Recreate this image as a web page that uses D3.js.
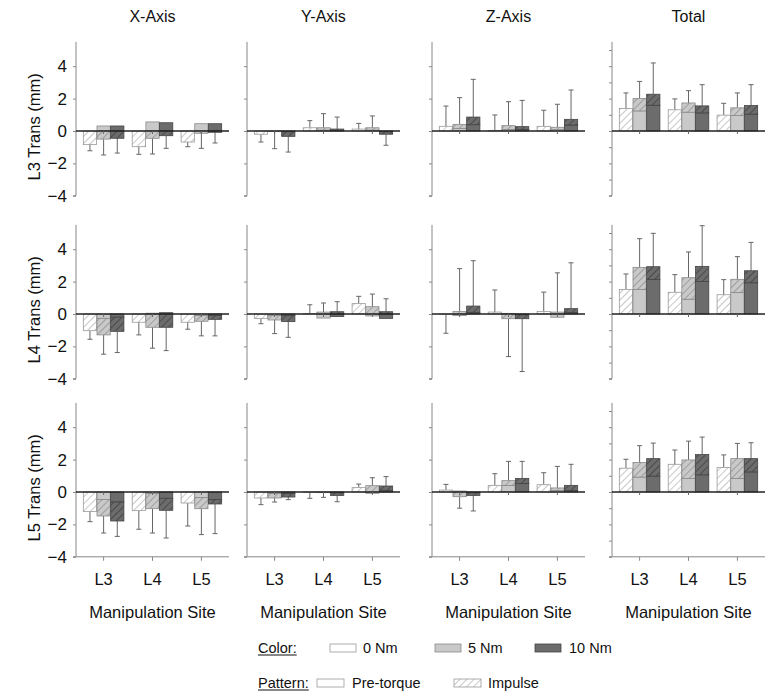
<!DOCTYPE html>
<html><head><meta charset="utf-8">
<script src="https://cdn.jsdelivr.net/npm/d3@7"></script>
<style>body{margin:0;background:#fff}svg{font-family:"Liberation Sans",Arial,sans-serif}</style>
</head><body><svg id="c" width="777" height="696"></svg>
<script>
const sites = ["L3","L4","L5"];
const torques = ["0 Nm","5 Nm","10 Nm"];
const axisTitles = ["X-Axis","Y-Axis","Z-Axis","Total"];
const rowLabels = ["L3 Trans (mm)","L4 Trans (mm)","L5 Trans (mm)"];
const yTickLabels = [4,2,0,-2,-4];
// each row: [X,Y,Z,Total], each with 9 values ordered site (L3,L4,L5) x torque (0,5,10)
const L3_pre = [
 [0,0.31,0.31, 0,0.56,0.51, 0,0.45,0.45],
 [0,0,-0.05, 0,0.05,0.03, 0,0.05,-0.05],
 [0,0.15,0.39, 0,0.1,0.1, 0,0.08,0.37],
 [0,1.24,1.59, 0,1.16,1.12, 0,0.96,1.04]];
const L3_total = [
 [-0.84,-0.5,-0.45, -0.97,-0.45,-0.29, -0.68,-0.14,-0.08],
 [-0.2,-0.03,-0.33, 0.2,0.2,0.12, 0.12,0.2,-0.2],
 [0.29,0.41,0.86, 0.04,0.33,0.27, 0.29,0.23,0.72],
 [1.39,2.0,2.27, 1.31,1.73,1.55, 0.98,1.43,1.57]];
const L3_err = [
 [-0.38,-0.98,-0.91, -0.47,-0.97,-0.78, -0.29,-0.93,-0.66],
 [-0.48,-1.06,-0.97, 0.44,0.87,0.74, 0.35,0.73,-0.68],
 [1.25,1.65,2.33, 0.95,1.48,1.62, 0.99,1.42,1.81],
 [0.96,1.06,1.93, 0.67,0.76,1.31, 0.73,0.92,1.29]];
const L4_pre = [
 [0,-0.27,-0.2, 0,0.05,0.08, 0,-0.1,-0.1],
 [0,-0.1,-0.1, 0,-0.25,-0.16, 0,-0.12,-0.27],
 [0,-0.1,0.1, 0,0.04,-0.05, 0,-0.2,0.1],
 [0,1.52,2.14, 0,0.91,2.0, 0,1.32,1.93]];
const L4_total = [
 [-1.03,-1.29,-1.07, -0.51,-0.82,-0.82, -0.51,-0.45,-0.33],
 [-0.27,-0.37,-0.47, 0.02,0.12,0.14, 0.64,0.45,0.14],
 [-0.01,0.16,0.49, 0.12,-0.29,-0.29, 0.16,0.12,0.33],
 [1.52,2.88,2.92, 1.34,2.24,2.94, 1.19,2.14,2.67]];
const L4_err = [
 [-0.53,-1.19,-1.31, -0.78,-1.29,-1.44, -0.43,-0.9,-1.02],
 [-0.33,-0.84,-0.97, 0.55,0.56,0.62, 0.45,0.78,0.8],
 [-1.18,2.64,2.8, 1.36,-2.34,-3.26, 1.19,2.42,2.83],
 [0.95,1.77,2.06, 1.09,1.59,2.51, 0.93,1.4,1.75]];
const L5_pre = [
 [0,-0.47,-0.62, 0,-0.1,-0.39, 0,-0.35,-0.47],
 [0,-0.1,-0.1, 0,-0.02,-0.05, 0,-0.08,0.1],
 [0,0.06,-0.05, 0,0.41,0.53, 0,0.1,0.1],
 [0,0.92,0.98, 0,0.84,1.06, 0,0.84,1.24]];
const L5_total = [
 [-1.21,-1.48,-1.79, -1.15,-1.03,-1.13, -0.68,-1.03,-0.74],
 [-0.37,-0.37,-0.31, -0.02,-0.04,-0.21, 0.27,0.39,0.37],
 [0.12,-0.29,-0.21, 0.41,0.7,0.84, 0.45,0.25,0.41],
 [1.47,1.82,2.06, 1.71,1.98,2.31, 1.51,2.06,2.06]];
const L5_err = [
 [-0.62,-1.05,-0.95, -1.15,-1.5,-1.71, -1.42,-1.6,-1.83],
 [-0.41,-0.25,-0.16, -0.37,-0.29,-0.39, 0.22,0.49,0.58],
 [0.35,-0.71,-0.96, 0.72,1.19,1.05, 0.74,1.33,1.3],
 [0.55,1.04,0.96, 0.88,1.16,1.08, 0.78,0.94,0.98]];
const preRows = [L3_pre, L4_pre, L5_pre];
const totalRows = [L3_total, L4_total, L5_total];
const errRows = [L3_err, L4_err, L5_err];

const fills = ["#ffffff","#c9c9c9","#6c6c6c"];
const hatchInk = ["#9a9a9a","#7a7a7a","#2e2e2e"];
const edge = ["#9a9a9a","#8a8a8a","#444"];

const svg = d3.select("#c");
const defs = svg.append("defs");
fills.forEach((f,i)=>{
  const p = defs.append("pattern").attr("id","h"+i).attr("patternUnits","userSpaceOnUse")
    .attr("width",5).attr("height",5).attr("patternTransform","rotate(45)");
  p.append("rect").attr("width",5).attr("height",5).attr("fill",f);
  p.append("line").attr("x1",0).attr("y1",0).attr("x2",0).attr("y2",5)
    .attr("stroke",hatchInk[i]).attr("stroke-width",1.1);
});

const colX = [76, 247, 432, 612];
const panelW = 153;
const zeroY = [131, 314, 492];
const unit = 16.2;
const FS = 16;

axisTitles.forEach((t,c)=>{
  svg.append("text").attr("x",colX[c]+panelW/2).attr("y",22).attr("text-anchor","middle")
    .attr("font-size",FS).attr("fill","#111").text(t);
});

for (let r=0;r<3;r++){
  const y = d3.scaleLinear().domain([-4,5.5]).range([zeroY[r]+4*unit, zeroY[r]-5.5*unit]);
  svg.append("text").attr("transform",`translate(40,${(y(5.5)+y(-4))/2 + 8}) rotate(-90)`)
    .attr("text-anchor","middle").attr("font-size",FS+0.5).attr("fill","#111").text(rowLabels[r]);
  for (let c=0;c<4;c++){
    const g = svg.append("g");
    const x = d3.scaleBand().domain(sites).range([colX[c], colX[c]+panelW]).paddingInner(0.17).paddingOuter(0.15);
    const xi = d3.scaleBand().domain(torques).range([0, x.bandwidth()]).paddingInner(0.03);
    const tickVals = c===3 ? d3.range(-4,6,1) : yTickLabels;
    const ya = d3.axisLeft(y).tickValues(tickVals).tickSize(3).tickFormat(c===0 ? d3.format("d") : "");
    const ag = g.append("g").attr("transform",`translate(${colX[c]},0)`).call(ya);
    ag.select(".domain").attr("stroke","#888").attr("d",`M-3,${y(-4)}H0V${y(5.5)}`);
    ag.selectAll(".tick line").attr("stroke","#888");
    ag.selectAll(".tick text").attr("font-size",FS+1).attr("fill","#111").attr("x",-9)
      .attr("font-family","Liberation Sans, Arial, sans-serif");
    if (r===2){
      const xa = d3.axisBottom(x).tickSize(4).tickPadding(12);
      const bg = g.append("g").attr("transform",`translate(0,${y(-4)})`).call(xa);
      bg.select(".domain").attr("stroke","#888").attr("d",`M${colX[c]},0H${colX[c]+panelW}`);
      bg.selectAll(".tick line").attr("stroke","#888");
      bg.selectAll(".tick text").attr("font-size",FS+0.5).attr("fill","#111")
        .attr("font-family","Liberation Sans, Arial, sans-serif");
      g.append("text").attr("x",colX[c]+panelW/2).attr("y",618).attr("text-anchor","middle")
        .attr("font-size",FS+0.5).attr("fill","#111").text("Manipulation Site");
    }
    const pre = preRows[r][c], tot = totalRows[r][c], err = errRows[r][c];
    const items = [];
    sites.forEach((s,si)=>torques.forEach((t,ti)=>{
      const k = si*3+ti;
      items.push({s,t,ti,pre:pre[k],tot:tot[k],err:err[k]});
    }));
    const bars = g.selectAll("g.bar").data(items).join("g").attr("class","bar");
    const cx = d => x(d.s)+xi(d.t)+xi.bandwidth()/2;
    bars.append("line").attr("x1",cx).attr("x2",cx)
      .attr("y1",d=>y(d.tot)).attr("y2",d=>y(d.tot+d.err)).attr("stroke","#666").attr("stroke-width",1);
    bars.append("line").attr("x1",d=>cx(d)-2.5).attr("x2",d=>cx(d)+2.5)
      .attr("y1",d=>y(d.tot+d.err)).attr("y2",d=>y(d.tot+d.err)).attr("stroke","#666").attr("stroke-width",1);
    bars.filter(d=>d.pre!==0).append("rect")
      .attr("x",d=>x(d.s)+xi(d.t)).attr("width",xi.bandwidth())
      .attr("y",d=>Math.min(y(0),y(d.pre))).attr("height",d=>Math.abs(y(0)-y(d.pre)))
      .attr("fill",d=>fills[d.ti]).attr("stroke",d=>edge[d.ti]).attr("stroke-width",0.8);
    const hStart = d => (Math.sign(d.pre)===Math.sign(d.tot) && Math.abs(d.pre)<Math.abs(d.tot)) ? d.pre : 0;
    bars.append("rect")
      .attr("x",d=>x(d.s)+xi(d.t)).attr("width",xi.bandwidth())
      .attr("y",d=>Math.min(y(hStart(d)),y(d.tot))).attr("height",d=>Math.abs(y(hStart(d))-y(d.tot)))
      .attr("fill",d=>`url(#h${d.ti})`).attr("stroke",d=>edge[d.ti]).attr("stroke-width",0.8);
    g.append("line").attr("x1",colX[c]).attr("x2",colX[c]+panelW).attr("y1",y(0)).attr("y2",y(0))
      .attr("stroke","#222").attr("stroke-width",1.3);
    g.selectAll("line.ct").data(sites).join("line").attr("class","ct")
      .attr("x1",d=>x(d)+x.bandwidth()/2).attr("x2",d=>x(d)+x.bandwidth()/2)
      .attr("y1",y(0)).attr("y2",y(0)+3).attr("stroke","#666");
  }
}

const lg = svg.append("g").attr("font-size",14.5).attr("fill","#111");
function ulabel(txt,x0,yb){
  const t = lg.append("text").attr("x",x0).attr("y",yb).text(txt);
  const w = t.node().getComputedTextLength();
  lg.append("line").attr("x1",x0).attr("x2",x0+w).attr("y1",yb+2).attr("y2",yb+2).attr("stroke","#111");
}
ulabel("Color:",258,653);
const colorPos = [[330,363],[435,468],[535,569]];
torques.forEach((t,i)=>{
  lg.append("rect").attr("x",colorPos[i][0]).attr("y",644).attr("width",26).attr("height",8)
    .attr("fill",fills[i]).attr("stroke",edge[i]).attr("stroke-width",0.8);
  lg.append("text").attr("x",colorPos[i][1]).attr("y",653).text(t);
});
ulabel("Pattern:",258,688);
lg.append("rect").attr("x",317).attr("y",679).attr("width",27).attr("height",8)
  .attr("fill","#fff").attr("stroke","#999").attr("stroke-width",0.8);
lg.append("text").attr("x",352).attr("y",688).text("Pre-torque");
lg.append("rect").attr("x",454).attr("y",679).attr("width",27).attr("height",8)
  .attr("fill","url(#h0)").attr("stroke","#999").attr("stroke-width",0.8);
lg.append("text").attr("x",488).attr("y",688).text("Impulse");
</script></body></html>
